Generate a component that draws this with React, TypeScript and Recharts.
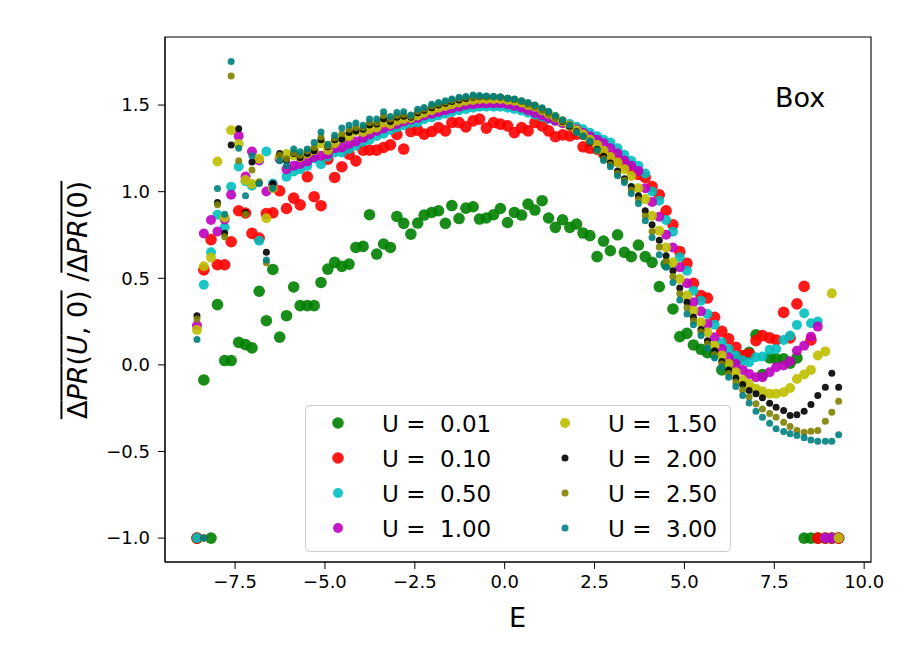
import React from 'react';
import { ScatterChart, Scatter, XAxis, YAxis, ReferenceArea } from 'recharts';

// bin centres (E) shared by every series
const energies = [
  -8.56, -8.37, -8.17, -7.99, -7.79, -7.61, -7.40, -7.21, -7.03, -6.83,
  -6.63, -6.45, -6.26, -6.07, -5.87, -5.69, -5.49, -5.30, -5.11, -4.92,
  -4.73, -4.53, -4.33, -4.14, -3.94, -3.76, -3.56, -3.37, -3.18, -3.00,
  -2.81, -2.61, -2.42, -2.24, -2.03, -1.84, -1.65, -1.47, -1.27, -1.08,
  -0.88, -0.70, -0.51, -0.31, -0.12, 0.08, 0.27, 0.47, 0.65, 0.84,
  1.04, 1.22, 1.41, 1.61, 1.81, 2.00, 2.18, 2.37, 2.57, 2.75,
  2.94, 3.14, 3.33, 3.52, 3.72, 3.91, 4.10, 4.30, 4.49, 4.68,
  4.87, 5.07, 5.25, 5.46, 5.64, 5.84, 6.04, 6.23, 6.43, 6.62,
  6.80, 6.99, 7.17, 7.37, 7.55, 7.76, 7.94, 8.13, 8.33, 8.52,
  8.71, 8.92, 9.10, 9.29,
];

const uValues = [0.01, 0.1, 0.5, 1.0, 1.5, 2.0, 2.5, 3.0];

const ratioU001 = [
  -1, -0.087, -1, 0.348, 0.025, 0.025, 0.13, 0.117, 0.098, 0.425,
  0.255, 0.551, 0.16, 0.284, 0.45, 0.342, 0.342, 0.342, 0.476, 0.553,
  0.592, 0.569, 0.582, 0.678, 0.684, 0.867, 0.64, 0.698, 0.678, 0.857,
  0.817, 0.755, 0.819, 0.865, 0.88, 0.89, 0.817, 0.92, 0.845, 0.905,
  0.913, 0.842, 0.848, 0.867, 0.903, 0.822, 0.88, 0.865, 0.928, 0.894,
  0.948, 0.848, 0.794, 0.838, 0.794, 0.813, 0.761, 0.746, 0.625, 0.715,
  0.659, 0.751, 0.65, 0.625, 0.692, 0.625, 0.592, 0.452, 0.582, 0.323,
  0.163, 0.182, 0.115, 0.09, 0.07, 0.063, -0.029, 0.0, 0.03, 0.05,
  0.073, 0.173, -0.056, 0.04, 0.035, 0.035, 0.01, 0.04, -1, -1,
  -1, -1, -1, -1,
];

const ratioU010 = [
  -1, 0.548, 0.723, 0.578, 0.578, 0.711, 0.89, 0.877, 0.759, 0.732,
  0.874, 0.878, 1.005, 0.903, 0.963, 0.924, 1.086, 0.971, 0.919, 1.188,
  1.082, 1.144, 1.217, 1.178, 1.24, 1.24, 1.24, 1.255, 1.27, 1.33,
  1.246, 1.347, 1.355, 1.332, 1.347, 1.37, 1.351, 1.399, 1.399, 1.374,
  1.409, 1.419, 1.367, 1.399, 1.39, 1.38, 1.341, 1.37, 1.351, 1.399,
  1.38, 1.351, 1.317, 1.328, 1.322, 1.332, 1.259, 1.251, 1.245, 1.22,
  1.2, 1.18, 1.16, 1.13, 1.1, 1.082, 1.03, 0.982, 0.89, 0.809,
  0.655, 0.586, 0.471, 0.4, 0.386, 0.275, 0.194, 0.15, 0.102, 0.054,
  0.063, 0.14, 0.169, 0.156, 0.144, 0.303, 0.156, 0.352, 0.453, 0.144,
  -1, -1, -1, -1,
];

const ratioU050 = [
  -1, 0.463, 0.65, 0.867, 0.794, 1.028, 1.145, 1.06, 1.034, 0.717,
  1.232, 1.047, 1.19, 1.086, 1.117, 1.13, 1.149, 1.191, 1.159, 1.203,
  1.226, 1.226, 1.246, 1.265, 1.288, 1.3, 1.322, 1.335, 1.357, 1.37,
  1.384, 1.396, 1.399, 1.419, 1.428, 1.44, 1.45, 1.46, 1.47, 1.478,
  1.485, 1.49, 1.49, 1.49, 1.49, 1.485, 1.478, 1.468, 1.456, 1.445,
  1.432, 1.42, 1.41, 1.4, 1.39, 1.375, 1.36, 1.34, 1.32, 1.3,
  1.284, 1.251, 1.213, 1.178, 1.149, 1.105, 1.001, 0.948, 0.836, 0.769,
  0.621, 0.544, 0.428, 0.371, 0.294, 0.232, 0.13, 0.092, 0.054, 0.025,
  0.015, 0.044, 0.048, 0.087, 0.092, 0.144, 0.169, 0.231, 0.298, 0.24,
  0.251, -1, -1, -1,
];

const ratioU100 = [
  0.227, 0.759, 0.836, 0.77, 0.84, 0.982, 1.322, 1.088, 1.232, 1.18,
  1.001, 1.03, 1.19, 1.13, 1.15, 1.16, 1.175, 1.2, 1.207, 1.217,
  1.25, 1.255, 1.275, 1.29, 1.31, 1.33, 1.35, 1.365, 1.38, 1.39,
  1.405, 1.415, 1.425, 1.44, 1.45, 1.46, 1.47, 1.48, 1.49, 1.5,
  1.505, 1.51, 1.51, 1.51, 1.51, 1.505, 1.495, 1.485, 1.47, 1.455,
  1.44, 1.425, 1.41, 1.395, 1.38, 1.36, 1.34, 1.32, 1.3, 1.28,
  1.25, 1.22, 1.18, 1.15, 1.12, 1.02, 0.94, 0.855, 0.751, 0.678,
  0.563, 0.471, 0.361, 0.309, 0.236, 0.159, 0.092, 0.044, 0.006, -0.029,
  -0.052, -0.071, -0.071, -0.043, -0.014, -0.004, 0.021, 0.082, 0.111, 0.163,
  0.221, -1, -1, -1,
];

const ratioU150 = [
  0.202, 0.569, 0.62, 1.174, 0.851, 1.355, 1.275, 1.067, 1.044, 1.19,
  0.847, 1.02, 1.2, 1.218, 1.21, 1.2, 1.22, 1.24, 1.28, 1.24,
  1.28, 1.31, 1.32, 1.35, 1.345, 1.36, 1.37, 1.4, 1.39, 1.41,
  1.42, 1.425, 1.44, 1.455, 1.47, 1.485, 1.495, 1.505, 1.515, 1.525,
  1.53, 1.535, 1.535, 1.535, 1.535, 1.53, 1.525, 1.515, 1.5, 1.49,
  1.47, 1.45, 1.43, 1.405, 1.38, 1.355, 1.33, 1.3, 1.27, 1.236,
  1.2, 1.168, 1.13, 1.09, 1.02, 0.957, 0.861, 0.775, 0.678, 0.592,
  0.496, 0.4, 0.313, 0.246, 0.188, 0.111, 0.054, 0.006, -0.043, -0.087,
  -0.11, -0.138, -0.152, -0.167, -0.167, -0.158, -0.133, -0.081, -0.056, -0.029,
  0.054, 0.078, 0.413, -1,
];

const ratioU200 = [
  0.284, -1, null, 0.938, 0.76, 1.27, 1.364, 0.88, 1.172, 1.05,
  0.65, 1.047, 1.22, 1.18, 1.22, 1.197, 1.22, 1.236, 1.3, 1.26,
  1.3, 1.303, 1.341, 1.35, 1.36, 1.385, 1.39, 1.42, 1.405, 1.43,
  1.435, 1.43, 1.455, 1.47, 1.485, 1.5, 1.51, 1.52, 1.53, 1.538,
  1.545, 1.548, 1.548, 1.548, 1.545, 1.54, 1.532, 1.522, 1.508, 1.493,
  1.475, 1.455, 1.43, 1.405, 1.378, 1.348, 1.318, 1.285, 1.245, 1.205,
  1.165, 1.12, 1.075, 1.03, 0.976, 0.89, 0.809, 0.72, 0.63, 0.544,
  0.444, 0.361, 0.275, 0.205, 0.14, 0.082, 0.02, -0.029, -0.075, -0.113,
  -0.148, -0.167, -0.19, -0.221, -0.245, -0.264, -0.292, -0.288, -0.268, -0.229,
  -0.177, -0.129, -0.048, -0.129,
];

const ratioU250 = [
  0.265, -1, null, 0.925, 0.74, 1.668, 1.178, 0.87, 1.125, 1.057,
  0.59, 1.02, 1.21, 1.19, 1.225, 1.21, 1.235, 1.255, 1.315, 1.265,
  1.31, 1.335, 1.36, 1.37, 1.37, 1.4, 1.4, 1.44, 1.42, 1.44,
  1.445, 1.435, 1.465, 1.478, 1.495, 1.508, 1.518, 1.528, 1.538, 1.545,
  1.548, 1.55, 1.55, 1.548, 1.545, 1.54, 1.532, 1.52, 1.505, 1.488,
  1.468, 1.447, 1.422, 1.41, 1.385, 1.345, 1.32, 1.29, 1.235, 1.19,
  1.155, 1.105, 1.065, 1.01, 0.955, 0.86, 0.77, 0.68, 0.595, 0.51,
  0.41, 0.33, 0.255, 0.19, 0.12, 0.06, 0.005, -0.05, -0.1, -0.145,
  -0.185, -0.225, -0.255, -0.28, -0.302, -0.331, -0.356, -0.379, -0.389, -0.383,
  -0.379, -0.325, -0.273, -0.21,
];

const ratioU300 = [
  0.146, -1, null, 1.018, 0.87, 1.751, 1.251, 0.976, 1.207, 1.047,
  0.606, 1.02, 1.178, 1.15, 1.246, 1.23, 1.246, 1.284, 1.345, 1.274,
  1.326, 1.367, 1.384, 1.396, 1.384, 1.419, 1.419, 1.461, 1.434, 1.457,
  1.461, 1.442, 1.476, 1.486, 1.505, 1.515, 1.525, 1.535, 1.545, 1.55,
  1.558, 1.555, 1.553, 1.55, 1.548, 1.54, 1.535, 1.525, 1.515, 1.5,
  1.485, 1.465, 1.44, 1.415, 1.385, 1.341, 1.322, 1.293, 1.24, 1.18,
  1.144, 1.092, 1.053, 0.99, 0.932, 0.832, 0.736, 0.636, 0.563, 0.476,
  0.375, 0.294, 0.232, 0.169, 0.098, 0.04, -0.014, -0.071, -0.125, -0.177,
  -0.22, -0.268, -0.302, -0.337, -0.369, -0.385, -0.398, -0.408, -0.421, -0.433,
  -0.441, -0.441, -0.441, -0.404,
];

const xTicks = [-7.5, -5.0, -2.5, 0.0, 2.5, 5.0, 7.5, 10.0];
const yTicks = [-1.0, -0.5, 0.0, 0.5, 1.0, 1.5];
const xDomain: [number, number] = [-9.45, 10.19];
const yDomain: [number, number] = [-1.138, 1.893];

const series = [
  { values: ratioU001, color: '#008000', r: 5.8 },
  { values: ratioU010, color: '#ff0000', r: 5.8 },
  { values: ratioU050, color: '#00bfbf', r: 5.0 },
  { values: ratioU100, color: '#bf00bf', r: 5.0 },
  { values: ratioU150, color: '#bfbf00', r: 5.0 },
  { values: ratioU200, color: '#000000', r: 3.5 },
  { values: ratioU250, color: '#808000', r: 3.5 },
  { values: ratioU300, color: '#008080', r: 3.5 },
].map((s, i) => ({
  ...s,
  label: `U =  ${uValues[i].toFixed(2)}`,
  data: energies
    .map((e, j) => ({ x: e, y: s.values[j] }))
    .filter((p) => p.y !== null && p.y !== undefined),
}));

const fmt = (v: number) => (v < 0 ? '\u2212' : '') + Math.abs(v).toFixed(1);

const dot = (color: string, r: number) => (p: any) =>
  <circle cx={p.cx} cy={p.cy} r={r} fill={color} fillOpacity={0.9} />;

const FONT = 'DejaVu Sans';
const tickStyle = { fill: '#000', fontSize: 18, fontFamily: FONT };

export default function App() {
  return (
    <div style={{ position: 'relative', width: 900, height: 638, fontFamily: FONT, background: '#fff' }}>
      <ScatterChart width={900} height={638} margin={{ top: 29, right: 37, bottom: 54, left: 97 }}>
        <XAxis
          type="number"
          dataKey="x"
          domain={xDomain}
          ticks={xTicks}
          tickFormatter={fmt}
          allowDataOverflow
          height={30}
          tickSize={7}
          tickMargin={6}
          stroke="#000"
          tick={tickStyle}
        />
        <YAxis
          type="number"
          dataKey="y"
          domain={yDomain}
          ticks={yTicks}
          tickFormatter={fmt}
          allowDataOverflow
          width={60}
          tickSize={7}
          tickMargin={8}
          stroke="#000"
          tick={tickStyle}
        />
        {/* axes frame */}
        <ReferenceArea
          x1={xDomain[0]} x2={xDomain[1]} y1={yDomain[0]} y2={yDomain[1]}
          fill="none" stroke="#000" strokeWidth={1.1} ifOverflow="visible"
        />
        {series.map((s) => (
          <Scatter
            key={s.label}
            name={s.label}
            data={s.data}
            fill={s.color}
            shape={dot(s.color, s.r)}
            isAnimationActive={false}
          />
        ))}
      </ScatterChart>

      {/* y label with overlines */}
      <div
        style={{
          position: 'absolute', left: 70, top: 292, transform: 'translate(-50%, -50%) rotate(-90deg)',
          whiteSpace: 'nowrap', fontSize: 27, lineHeight: 1.3,
        }}
      >
        <span style={{ textDecoration: 'overline', textDecorationThickness: 1.5 }}>
          Δ<i>PR</i>(<i>U</i>, 0)
        </span>
        {' /'}
        <span style={{ textDecoration: 'overline', textDecorationThickness: 1.5 }}>
          Δ<i>PR</i>(0)
        </span>
      </div>

      <svg width={900} height={638} style={{ position: 'absolute', left: 0, top: 0, pointerEvents: 'none' }}>
        <text x={509.6} y={619} textAnchor="middle" fontSize={27} fontFamily={FONT}>E</text>
        <text x={767} y={99} fontSize={27} fontFamily={FONT}>Box</text>
        <rect x={297.5} y={397.5} width={425} height={146} rx={4} fill="#fff" fillOpacity={0.8} stroke="#cccccc" />
        {series.map((s, i) => {
          const col = Math.floor(i / 4);
          const row = i % 4;
          const cy = 415 + row * 35;
          const mx = col === 0 ? 330 : 557;
          const tx = col === 0 ? 374 : 600;
          return (
            <g key={s.label}>
              <circle cx={mx} cy={cy} r={s.r} fill={s.color} fillOpacity={0.9} />
              <text x={tx} y={cy + 8.5} fontSize={23} fontFamily={FONT} style={{ whiteSpace: 'pre' }}>
                {s.label}
              </text>
            </g>
          );
        })}
      </svg>
    </div>
  );
}
